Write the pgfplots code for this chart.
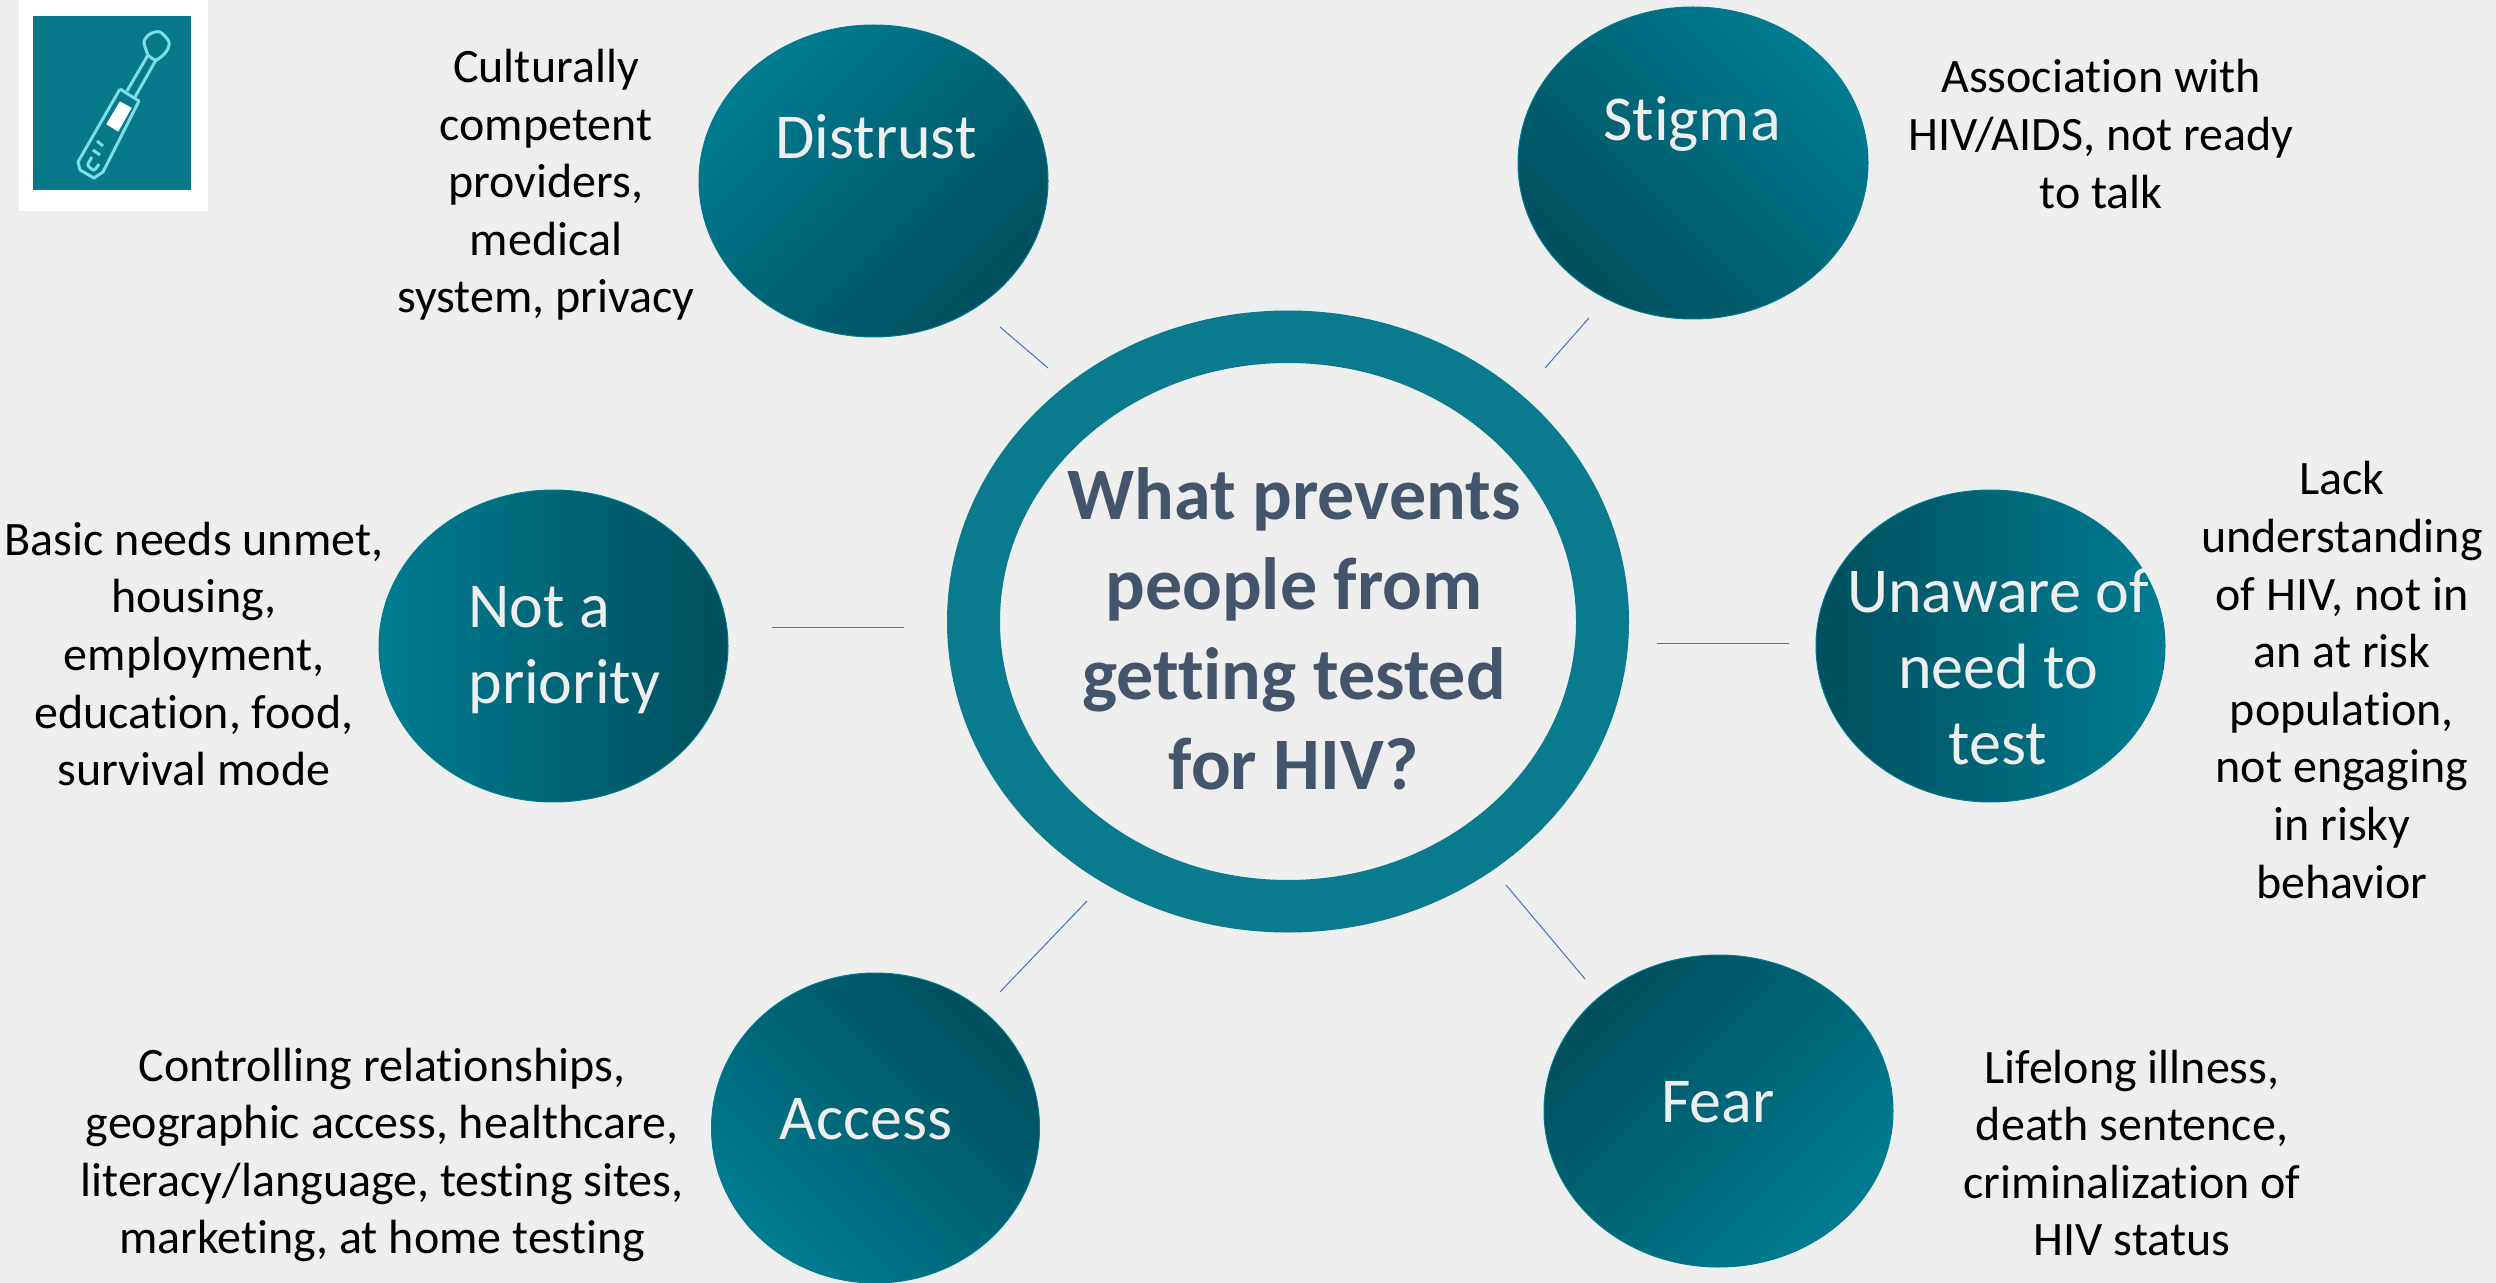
\documentclass[border=0pt]{standalone}
\usepackage{pgfplots}
\pgfplotsset{compat=1.18}
\usepackage{fontspec}
\setmainfont{Carlito}[Ligatures=NoCommon]
\definecolor{bg}{HTML}{EEEEEE}
\definecolor{tl}{HTML}{007C91}
\definecolor{td}{HTML}{004F5E}
\definecolor{ring}{HTML}{0A7A8E}
\definecolor{iconbg}{HTML}{067889}
\definecolor{tit}{HTML}{44546A}
\definecolor{lnk}{HTML}{4472C4}
\definecolor{ic}{HTML}{7FDDE5}
\newcommand{\bdy}[3]{\node[align=center,text=black,font=\fontsize{24}{28.8}\selectfont,inner sep=0pt] at (axis cs:#1,#2) {#3};}
\newcommand{\bub}[3]{\node[align=center,text=bg,font=\fontsize{32}{38}\selectfont,inner sep=0pt] at (axis cs:#1,#2) {#3};}
\newcommand{\elli}[7]{\shade[top color=#6,bottom color=#7,shading angle=#5,draw=tl,line width=0.5pt] (axis cs:#1,#2) ellipse [x radius=#3pt,y radius=#4pt];}
\begin{document}
\begin{tikzpicture}
\begin{axis}[scale only axis,width=1248pt,height=641.5pt,xmin=0,xmax=2496,ymin=0,ymax=1283,y dir=reverse,hide axis]
\fill[bg] (axis cs:0,0) rectangle (axis cs:2496,1283);
% icon
\fill[white] (axis cs:19,0) rectangle (axis cs:208,211);
\fill[iconbg] (axis cs:33,16) rectangle (axis cs:191,190);
\addplot[ic,line width=1.5pt,line join=round] coordinates {(120,89) (139,101) (103,172) (94,178) (80,170) (78,162) (120,89)};
\addplot[ic,line width=1.5pt] coordinates {(127,91) (148,55)};
\addplot[ic,line width=1.5pt] coordinates {(135,97) (156,60)};
\addplot[ic,line width=1.5pt,smooth] coordinates {(148,55) (144,42) (150,34) (160,32) (169,42) (166,52) (156,60) (148,55)};
\addplot[white,fill=white,line width=0.5pt] coordinates {(120,102) (131,108) (118,131) (107,124) (120,102)};
\addplot[ic,line width=1.5pt] coordinates {(97,141) (103,146)};
\addplot[ic,line width=1.5pt] coordinates {(93,150) (100,155)};
\addplot[ic,line width=1.5pt,smooth] coordinates {(92,157) (88,165) (94,170) (99,164)};
% ring
\fill[ring,even odd rule] (axis cs:1288,621.5) ellipse [x radius=170.5pt,y radius=155.5pt] (axis cs:1288,621.5) ellipse [x radius=144pt,y radius=129.25pt];
% bubbles
\elli{873.5}{181}{87.25}{78}{45}{tl}{td}
\elli{1693}{163}{87.5}{78}{-45}{tl}{td}
\elli{553.5}{646}{87.25}{78}{90}{tl}{td}
\elli{1990.5}{646}{87.25}{78}{90}{td}{tl}
\elli{875.5}{1128}{82}{77.5}{-45}{td}{tl}
\elli{1718.5}{1111}{87.25}{78}{45}{td}{tl}
% connectors
\addplot[lnk,line width=0.5pt] coordinates {(1000,327) (1048,368)};
\addplot[lnk,line width=0.5pt] coordinates {(1545,368) (1589,318)};
\addplot[lnk,line width=0.5pt] coordinates {(772,627) (904,627)};
\addplot[lnk,line width=0.5pt] coordinates {(1657,643) (1789,643)};
\addplot[lnk,line width=0.5pt] coordinates {(1000,992) (1087,901)};
\addplot[lnk,line width=0.5pt] coordinates {(1506,885) (1585,979)};
% centre text
\node[align=center,text=tit,font=\fontsize{37}{45}\selectfont\bfseries,inner sep=0pt] at (axis cs:1294,629) {What prevents\\people from\\getting tested\\for HIV?};
% bubble labels
\bub{876}{137}{Distrust}
\bub{1692}{124}{Stigma}
\node[align=left,text=bg,font=\fontsize{32}{38}\selectfont,inner sep=0pt,anchor=west] at (axis cs:468,650) {Not a\\priority};
\bub{1998}{667}{Unaware of\\need to\\test}
\bub{866}{1119}{Access}
\bub{1718}{1102}{Fear}
% descriptions
\bdy{546}{185}{Culturally\\competent\\providers,\\medical\\system, privacy}
\bdy{2101}{134}{Association with\\HIV/AIDS, not ready\\to talk}
\bdy{194}{654}{Basic needs unmet,\\housing,\\employment,\\education, food,\\survival mode}
\bdy{2342}{680}{Lack\\understanding\\of HIV, not in\\an at risk\\population,\\not engaging\\in risky\\behavior}
\bdy{382}{1155}{Controlling relationships,\\geographic access, healthcare,\\literacy/language, testing sites,\\marketing, at home testing}
\bdy{2132}{1153}{Lifelong illness,\\death sentence,\\criminalization of\\HIV status}
\end{axis}
\end{tikzpicture}
\end{document}
